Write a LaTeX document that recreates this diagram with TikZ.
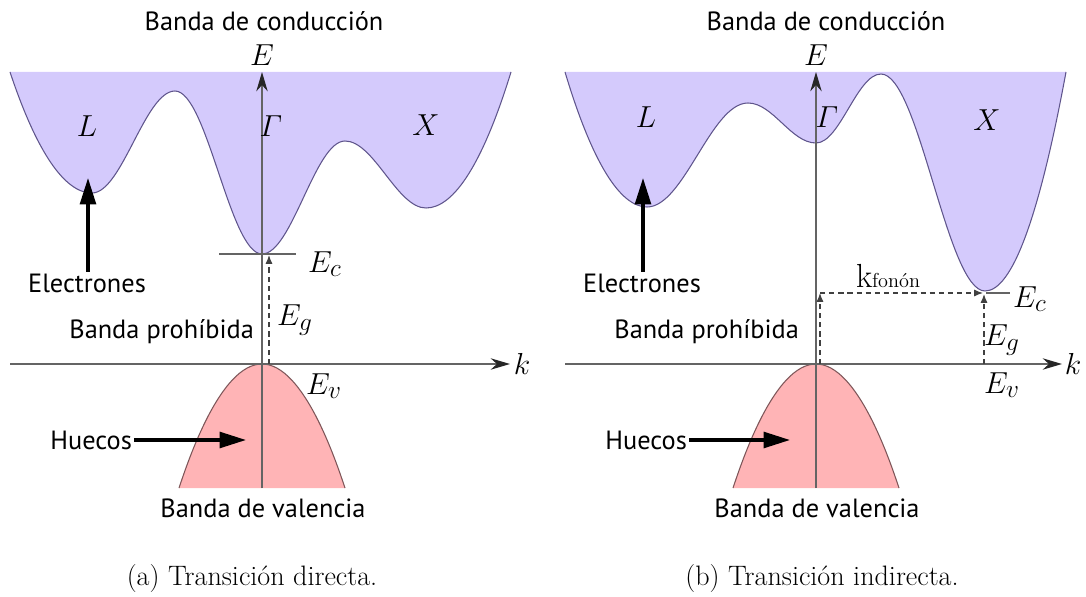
\documentclass[tikz,border=0pt]{standalone}
\usepackage{amsmath}
\usepackage{fontspec}
\setsansfont{PT Sans}
\usetikzlibrary{arrows.meta, positioning}

\definecolor{condfill}{RGB}{212,202,252}
\definecolor{condline}{RGB}{95,85,140}
\definecolor{valfill}{RGB}{255,180,182}
\definecolor{valline}{RGB}{125,85,88}
\definecolor{axisgray}{RGB}{100,100,100}

\begin{document}
\begin{tikzpicture}[
    x=0.02cm, y=0.02cm,
    txt/.style={font=\sffamily\fontsize{15}{17}\selectfont, inner sep=1pt},
    sym/.style={font=\fontsize{19}{22}\selectfont, inner sep=1pt},
    captxt/.style={font=\rmfamily\fontsize{16}{18}\selectfont, inner sep=1pt},
    axis/.style={draw=axisgray, line width=0.7pt, -{Stealth[length=11pt,width=6.5pt,color=black!85]}},
    gapline/.style={draw=axisgray, line width=0.7pt},
    dasharr/.style={draw=black!75, line width=0.7pt, dash pattern=on 3pt off 2.2pt,
                    -{Latex[length=5pt,width=4pt]}},
    bigarr/.style={line width=1.8pt, -{Triangle[length=15pt,width=9pt]}}
]
\useasboundingbox (0,0) rectangle (1086,596);

% ---- (a) direct transition ----
\fill[condfill] (10,524) .. controls (37,443) and (65,403) .. (92,403)
    .. controls +(30,0) and +(-30,0) .. (175,505)
    .. controls +(32,0) and +(-32,0) .. (262,342)
    .. controls +(30,0) and +(-30,0) .. (345,455)
    .. controls +(29,0) and +(-29,0) .. (426,388)
    .. controls (454,388) and (483,433) .. (511,524) -- cycle;
\draw[condline, line width=0.6pt] (10,524) .. controls (37,443) and (65,403) .. (92,403)
    .. controls +(30,0) and +(-30,0) .. (175,505)
    .. controls +(32,0) and +(-32,0) .. (262,342)
    .. controls +(30,0) and +(-30,0) .. (345,455)
    .. controls +(29,0) and +(-29,0) .. (426,388)
    .. controls (454,388) and (483,433) .. (511,524);
\fill[valfill] (179,108) parabola bend (262,232) (345,108) -- cycle;
\draw[valline, line width=0.6pt] (179,108) parabola bend (262,232) (345,108);

\coordinate (kstartA) at (10,232);
\coordinate (kendA) at (510,232);
\coordinate (ebotA) at (262,108);
\coordinate (etopA) at (262,524);
\draw[axis] (kstartA) -- (kendA);
\draw[axis] (ebotA) -- (etopA);

\coordinate (ecleftA) at (219,342);
\coordinate (ecrightA) at (296,342);
\draw[gapline] (ecleftA) -- (ecrightA);
\coordinate (egbotA) at (269,232);
\coordinate (egtopA) at (269,341);
\draw[dasharr] (egbotA) -- (egtopA);

\node[txt] (condA) at (264,575) {Banda de conducción};
\node[sym] (EA) at (262,541) {$E$};
\node[sym] (kA) at (522,232) {$k$};
\node[sym] (LA) at (87,470) {$L$};
\node[sym] (GA) at (271,470) {$\varGamma$};
\node[sym] (XA) at (426,471) {$X$};
\node[sym] (EcA) at (325,332) {$E_c$};
\node[sym] (EgA) at (295,276) {$E_g$};
\node[sym] (EvA) at (324,210) {$E_v$};

\node[txt] (elecA) at (87,313) {Electrones};
\coordinate (electipA) at (88,418);
\draw[bigarr] (elecA.north -| electipA) -- (electipA);
\node[txt, anchor=east] (gapA) at (256,264) {Banda prohíbida};
\node[txt, anchor=east] (huecA) at (134,156) {Huecos};
\coordinate (huectipA) at (246,156);
\draw[bigarr] (huecA.east) -- (huectipA);
\node[txt] (valA) at (263,88) {Banda de valencia};
\node[captxt] (capA) at (252,18) {(a) Transición directa.};

% ---- (b) indirect transition ----
\fill[condfill] (565,524) .. controls (592,434) and (620,389) .. (647,389)
    .. controls +(37,0) and +(-37,0) .. (748,493)
    .. controls +(25,0) and +(-25,0) .. (816,453)
    .. controls +(24,0) and +(-24,0) .. (881,522)
    .. controls +(38,0) and +(-38,0) .. (985,305)
    .. controls (1012,305) and (1039,378) .. (1066,524) -- cycle;
\draw[condline, line width=0.6pt] (565,524) .. controls (592,434) and (620,389) .. (647,389)
    .. controls +(37,0) and +(-37,0) .. (748,493)
    .. controls +(25,0) and +(-25,0) .. (816,453)
    .. controls +(24,0) and +(-24,0) .. (881,522)
    .. controls +(38,0) and +(-38,0) .. (985,305)
    .. controls (1012,305) and (1039,378) .. (1066,524);
\fill[valfill] (733,108) parabola bend (816,232) (899,108) -- cycle;
\draw[valline, line width=0.6pt] (733,108) parabola bend (816,232) (899,108);

\coordinate (kstartB) at (565,232);
\coordinate (kendB) at (1062,232);
\coordinate (ebotB) at (816,108);
\coordinate (etopB) at (816,524);
\draw[axis] (kstartB) -- (kendB);
\draw[axis] (ebotB) -- (etopB);

\coordinate (phbotB) at (820,232);
\coordinate (phcornerB) at (820,303);
\coordinate (phendB) at (983,303);
\draw[dasharr] (phbotB) -- (phcornerB);
\draw[dasharr] (phcornerB) -- (phendB);
\coordinate (egbotB) at (984,232);
\coordinate (egtopB) at (984,302);
\draw[dasharr] (egbotB) -- (egtopB);
\coordinate (ecleftB) at (986,303);
\coordinate (ecrightB) at (1010,303);
\draw[gapline] (ecleftB) -- (ecrightB);

\node[txt] (condB) at (826,575) {Banda de conducción};
\node[sym] (EB) at (816,541) {$E$};
\node[sym] (kB) at (1073,232) {$k$};
\node[sym] (LB) at (646,479) {$L$};
\node[sym] (GB) at (827,479) {$\varGamma$};
\node[sym] (XB) at (987,476) {$X$};
\node[sym] (EcB) at (1030,297) {$E_c$};
\node[sym] (EgB) at (1002,256) {$E_g$};
\node[sym] (EvB) at (1002,211) {$E_v$};
\node[inner sep=1pt, font=\rmfamily, anchor=base] (phonB) at (888,309)
    {{\fontsize{19}{20}\selectfont k}{\fontsize{11.5}{12}\selectfont fonón}};

\node[txt] (elecB) at (642,313) {Electrones};
\coordinate (electipB) at (643,418);
\draw[bigarr] (elecB.north -| electipB) -- (electipB);
\node[txt, anchor=east] (gapB) at (801,264) {Banda prohíbida};
\node[txt, anchor=east] (huecB) at (689,156) {Huecos};
\coordinate (huectipB) at (790,156);
\draw[bigarr] (huecB.east) -- (huectipB);
\node[txt] (valB) at (817,88) {Banda de valencia};
\node[captxt] (capB) at (822,18) {(b) Transición indirecta.};

\end{tikzpicture}
\end{document}
